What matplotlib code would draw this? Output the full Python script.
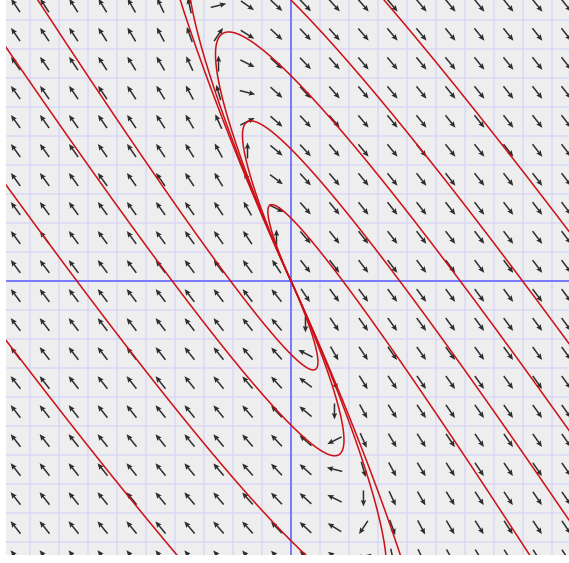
import numpy as np
import matplotlib
matplotlib.use("Agg")
import matplotlib.pyplot as plt

# linear system  x' = 3x + y,  y' = -4x - y
A = np.array([[3.0, 1.0],
              [-4.0, -1.0]])

# starting points of the drawn solution curves (all on the y axis)
start_x = [0.0, 0.0, 0.0, 0.0, 0.0, 0.0, 0.0, 0.0, 0.0]
start_y = [2.17, 4.55, 7.08, 9.69, 13.2, -2.53, -4.97, -8.96, -13.8]

# visible window
x_min, x_max = -9.83, 9.59
y_min, y_max = -9.45, 9.69

# direction-field sample points (cell centres)
field_x = np.arange(-9.5, 10.0, 1.0)
field_y = np.arange(-9.5, 10.0, 1.0)
arrow_len = 0.55


def field(p):
    return A @ p


def integrate(p0, dt, n_max=4000, box=30.0):
    pts = [np.array(p0, dtype=float)]
    p = pts[0]
    for _ in range(n_max):
        k1 = field(p)
        k2 = field(p + 0.5 * dt * k1)
        k3 = field(p + 0.5 * dt * k2)
        k4 = field(p + dt * k3)
        p = p + dt / 6.0 * (k1 + 2 * k2 + 2 * k3 + k4)
        pts.append(p)
        if np.abs(p).max() > box or np.abs(p).max() < 1e-4:
            break
    return np.array(pts)


fig = plt.figure(figsize=(5.69, 5.63), dpi=100)
ax = fig.add_axes([6 / 569, 8 / 563, 563 / 569, 555 / 563])
ax.set_facecolor("#eeeeee")
ax.set_xlim(x_min, x_max)
ax.set_ylim(y_min, y_max)

# grid
for g in range(-10, 11):
    ax.axvline(g, color="#d8d8f6", lw=1.1, zorder=1)
    ax.axhline(g, color="#d8d8f6", lw=1.1, zorder=1)
ax.axvline(0, color="#7070ff", lw=1.3, zorder=2)
ax.axhline(0, color="#7070ff", lw=1.3, zorder=2)

# normalised direction field
X, Y = np.meshgrid(field_x, field_y)
U = A[0, 0] * X + A[0, 1] * Y
V = A[1, 0] * X + A[1, 1] * Y
N = np.hypot(U, V)
N[N == 0] = 1
ax.quiver(X, Y, U / N * arrow_len, V / N * arrow_len,
          angles="xy", scale_units="xy", scale=1, pivot="middle",
          color="#2e2e2e", width=0.0027, headwidth=3.6, headlength=4.2,
          headaxislength=3.7, zorder=3)

# solution curves, forward and backward from each start point
for x0, y0 in zip(start_x, start_y):
    fwd = integrate((x0, y0), 0.005)
    bwd = integrate((x0, y0), -0.005)
    curve = np.vstack([bwd[::-1], fwd[1:]])
    ax.plot(curve[:, 0], curve[:, 1], color="#cc1016", lw=1.1, zorder=4)

ax.set_xticks([])
ax.set_yticks([])
for s in ax.spines.values():
    s.set_visible(False)

fig.savefig("out.png", dpi=100)
